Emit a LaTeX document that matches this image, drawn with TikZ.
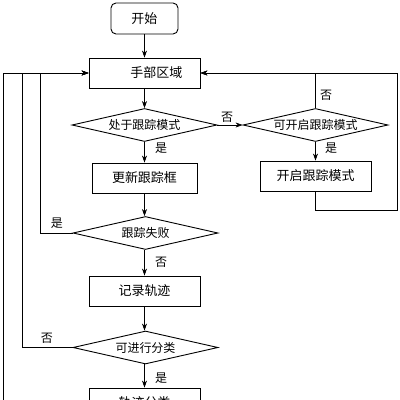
\documentclass[tikz,border=0pt]{standalone}
\usepackage{fontspec}
\setmainfont{Liberation Serif}
\newfontfamily\cjk{Noto Sans CJK SC}
\usetikzlibrary{shapes.geometric,arrows.meta}
\begin{document}
\begin{tikzpicture}[x=1pt,y=-1pt,
  box/.style={draw,line width=0.9pt,minimum width=111pt,minimum height=30pt,inner sep=0pt,font=\cjk\fontsize{13}{13}\selectfont},
  dia/.style={draw,line width=0.9pt,diamond,aspect=4.4,minimum width=145pt,minimum height=33pt,inner sep=0pt,font=\cjk\fontsize{12}{12}\selectfont},
  lbl/.style={font=\cjk\fontsize{12}{12}\selectfont,inner sep=0pt},
  conn/.style={line width=0.6pt},
  arr/.style={conn,-{Stealth[length=7pt,width=5pt]}}]
\clip (0,0) rectangle (400,400);
\node[box,rounded corners=5pt,minimum width=67pt,minimum height=31pt] (start) at (144.5,18.5) {开始};
\node[box] (hand) at (144.5,73) {\hspace*{24pt}手部区域};
\node[dia] (intrack) at (144.5,125) {处于跟踪模式};
\node[box,minimum width=105pt] (update) at (144.5,178) {更新跟踪框};
\node[dia] (fail) at (145.5,233) {跟踪失败};
\node[box] (record) at (144.5,291) {记录轨迹};
\node[dia] (canclass) at (145.5,347.5) {可进行分类};
\node[box] (classify) at (144.5,403) {轨迹分类};
\node[dia,minimum width=145pt] (canopen) at (315.5,125) {可开启跟踪模式};
\node[box] (open) at (315.5,176) {开启跟踪模式};
\coordinate (bottomfeed) at (3,420);
% main flow
\draw[arr] (start) -- (hand);
\draw[arr] (hand) -- (intrack);
\draw[arr] (intrack) -- (update);
\draw[arr] (update.south) -- (update.south |- fail.north);
\draw[arr] (fail.south -| record.north) -- (record);
\draw[arr] (record.south) -- (record.south |- canclass.north);
\draw[arr] (canclass.south -| classify.north) -- (classify);
% right branch
\draw[arr] (intrack.east) -- (canopen.west);
\draw[arr] (canopen) -- (open);
\draw[arr] (canopen.north) -- (315.5,73) -- (hand.east);
\draw[arr] (open.south) -- (315.5,210) -- (397,210) -- (397,73) -- (hand.east);
% left feedback
\draw[arr] (fail.west) -- (40,233) -- (40,73) -- (hand.west);
\draw[arr] (canclass.west) -- (22,347.5) -- (22,73) -- (hand.west);
\draw[arr] (bottomfeed) -- (3,73) -- (hand.west);
% labels
\node[lbl] (l1) at (161,148) {是};
\node[lbl] (l2) at (227,117) {否};
\node[lbl] (l3) at (326,95) {否};
\node[lbl] (l4) at (331,148) {是};
\node[lbl] (l5) at (57,223) {是};
\node[lbl] (l6) at (161,262) {否};
\node[lbl] (l7) at (47,338) {否};
\node[lbl] (l8) at (161,378) {是};
\end{tikzpicture}
\end{document}
